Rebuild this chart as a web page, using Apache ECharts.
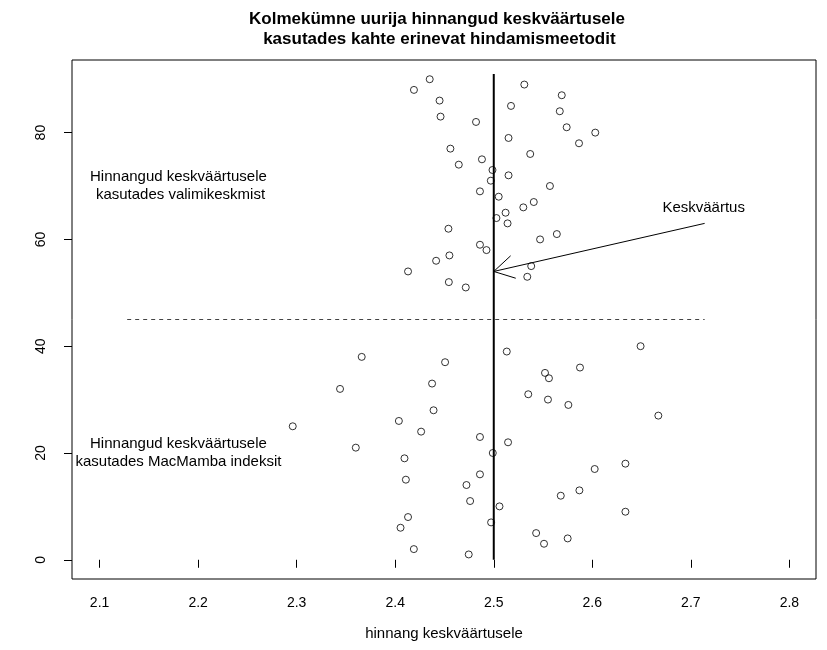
<!DOCTYPE html>
<html><head><meta charset="utf-8">
<script src="https://cdn.jsdelivr.net/npm/echarts@6/dist/echarts.min.js"></script>
<style>html,body{margin:0;padding:0;background:#fff}#c{width:827px;height:650px}</style>
</head><body><div id="c"></div>
<script>
// ---- data ----
const xTicks = [2.1, 2.2, 2.3, 2.4, 2.5, 2.6, 2.7, 2.8];
const yTicks = [0, 20, 40, 60, 80];

// estimates using MacMamba index (rows 1..40)
const yMacMamba = [1,2,3,4,5,6,7,8,9,10,11,12,13,14,15,16,17,18,19,20,
                   21,22,23,24,25,26,27,28,29,30,31,32,33,34,35,36,37,38,39,40];
const xMacMamba = [2.4746,2.4189,2.551,2.575,2.543,2.4054,2.4973,2.413,2.6336,2.5058,
                   2.476,2.568,2.5869,2.4723,2.4108,2.486,2.6024,2.6336,2.4094,2.499,
                   2.360,2.5145,2.486,2.4263,2.296,2.4037,2.667,2.4389,2.5757,2.555,
                   2.535,2.344,2.4374,2.556,2.552,2.5875,2.4506,2.366,2.5132,2.649];

// estimates using sample mean (rows 51..90)
const yMean = [51,52,53,54,55,56,57,58,59,60,61,62,63,64,65,66,67,68,69,70,
               71,72,73,74,75,76,77,78,79,80,81,82,83,84,85,86,87,88,89,90];
const xMean = [2.4716,2.4544,2.534,2.413,2.538,2.4415,2.455,2.4926,2.486,2.547,
               2.564,2.454,2.514,2.5027,2.512,2.530,2.5406,2.505,2.486,2.557,
               2.497,2.515,2.4987,2.4645,2.488,2.537,2.456,2.5865,2.515,2.603,
               2.574,2.482,2.446,2.567,2.5175,2.445,2.569,2.419,2.531,2.435];

const trueMean = 2.5;
const meanLineY = [0, 91];
const dividerX = [2.128, 2.714];
const dividerY = 45;
const arrowFrom = [2.714, 63];
const arrowTo = [2.5, 54];
const notes = [
  {text: 'Hinnangud keskväärtusele\n kasutades valimikeskmist', x: 2.18, y: 70},
  {text: 'Hinnangud keskväärtusele\nkasutades MacMamba indeksit', x: 2.18, y: 20},
  {text: 'Keskväärtus', x: 2.713, y: 66}
];
const titleText = 'Kolmekümne uurija hinnangud keskväärtusele\n kasutades kahte erinevat hindamismeetodit';
const xName = 'hinnang keskväärtusele';

// ---- chart ----
const FONT = '"Liberation Sans", Arial, Helvetica, sans-serif';
const chart = echarts.init(document.getElementById('c'), null, {renderer: 'canvas'});
const pts = (xs, ys) => xs.map((x, i) => [x, ys[i]]);
const pointStyle = {color: 'rgba(0,0,0,0)', borderColor: '#000', borderWidth: 1};

chart.setOption({
  animation: false,
  backgroundColor: '#fff',
  title: {
    text: titleText, left: 432, top: 4, textAlign: 'center',
    textStyle: {fontFamily: FONT, fontWeight: 'bold', fontSize: 17, lineHeight: 20, color: '#000'}
  },
  grid: {left: 72, right: 11, top: 60, bottom: 71, show: true, borderColor: '#000', borderWidth: 1,
         backgroundColor: 'transparent', containLabel: false, outerBoundsMode: 'none'},
  xAxis: {
    type: 'value', min: 2.072, max: 2.827,
    axisLine: {show: false},
    axisTick: {show: true, customValues: xTicks, length: 8, lineStyle: {color: '#000'}},
    axisLabel: {customValues: xTicks, formatter: v => v.toFixed(1), fontFamily: FONT, fontSize: 14, color: '#000', margin: 17},
    splitLine: {show: false},
    name: xName, nameLocation: 'middle', nameGap: 47,
    nameTextStyle: {fontFamily: FONT, fontSize: 15, color: '#000'}
  },
  yAxis: {
    type: 'value', min: -3.6, max: 93.6,
    axisLine: {show: false},
    axisTick: {show: true, customValues: yTicks, length: 8, lineStyle: {color: '#000'}},
    axisLabel: {customValues: yTicks, rotate: 90, fontFamily: FONT, fontSize: 14, color: '#000', margin: 24},
    splitLine: {show: false}
  },
  series: [
    {type: 'scatter', data: pts(xMacMamba, yMacMamba), symbol: 'circle', symbolSize: 7, itemStyle: pointStyle, silent: true},
    {type: 'scatter', data: pts(xMean, yMean), symbol: 'circle', symbolSize: 7, itemStyle: pointStyle, silent: true},
    {type: 'line', data: [[trueMean, meanLineY[0]], [trueMean, meanLineY[1]]], symbol: 'none',
     lineStyle: {color: '#000', width: 2}, silent: true},
    {type: 'line', data: [[dividerX[0], dividerY], [dividerX[1], dividerY]], symbol: 'none',
     lineStyle: {color: '#444', width: 1, type: [4, 4]}, silent: true},
    {type: 'line', data: [arrowFrom, arrowTo], symbol: 'none',
     lineStyle: {color: '#000', width: 1}, silent: true}
  ]
});

// annotations positioned through the chart's scales
const toPx = p => chart.convertToPixel({gridIndex: 0}, p);
const tip = toPx(arrowTo), tail = toPx(arrowFrom);
const ang = Math.atan2(tail[1] - tip[1], tail[0] - tip[0]);
const headLen = 23, headAng = Math.PI / 6;
const h1 = [tip[0] + headLen * Math.cos(ang - headAng), tip[1] + headLen * Math.sin(ang - headAng)];
const h2 = [tip[0] + headLen * Math.cos(ang + headAng), tip[1] + headLen * Math.sin(ang + headAng)];
const graphics = [{
  type: 'polyline', shape: {points: [h1, tip, h2]}, style: {stroke: '#000', lineWidth: 1, fill: null}, silent: true
}];
notes.forEach(n => {
  const p = toPx([n.x, n.y]);
  graphics.push({type: 'text', x: p[0], y: p[1], silent: true,
    style: {text: n.text, fill: '#000', font: '15px ' + FONT, align: 'center', verticalAlign: 'middle', lineHeight: 18}});
});
chart.setOption({graphic: graphics});
</script></body></html>
